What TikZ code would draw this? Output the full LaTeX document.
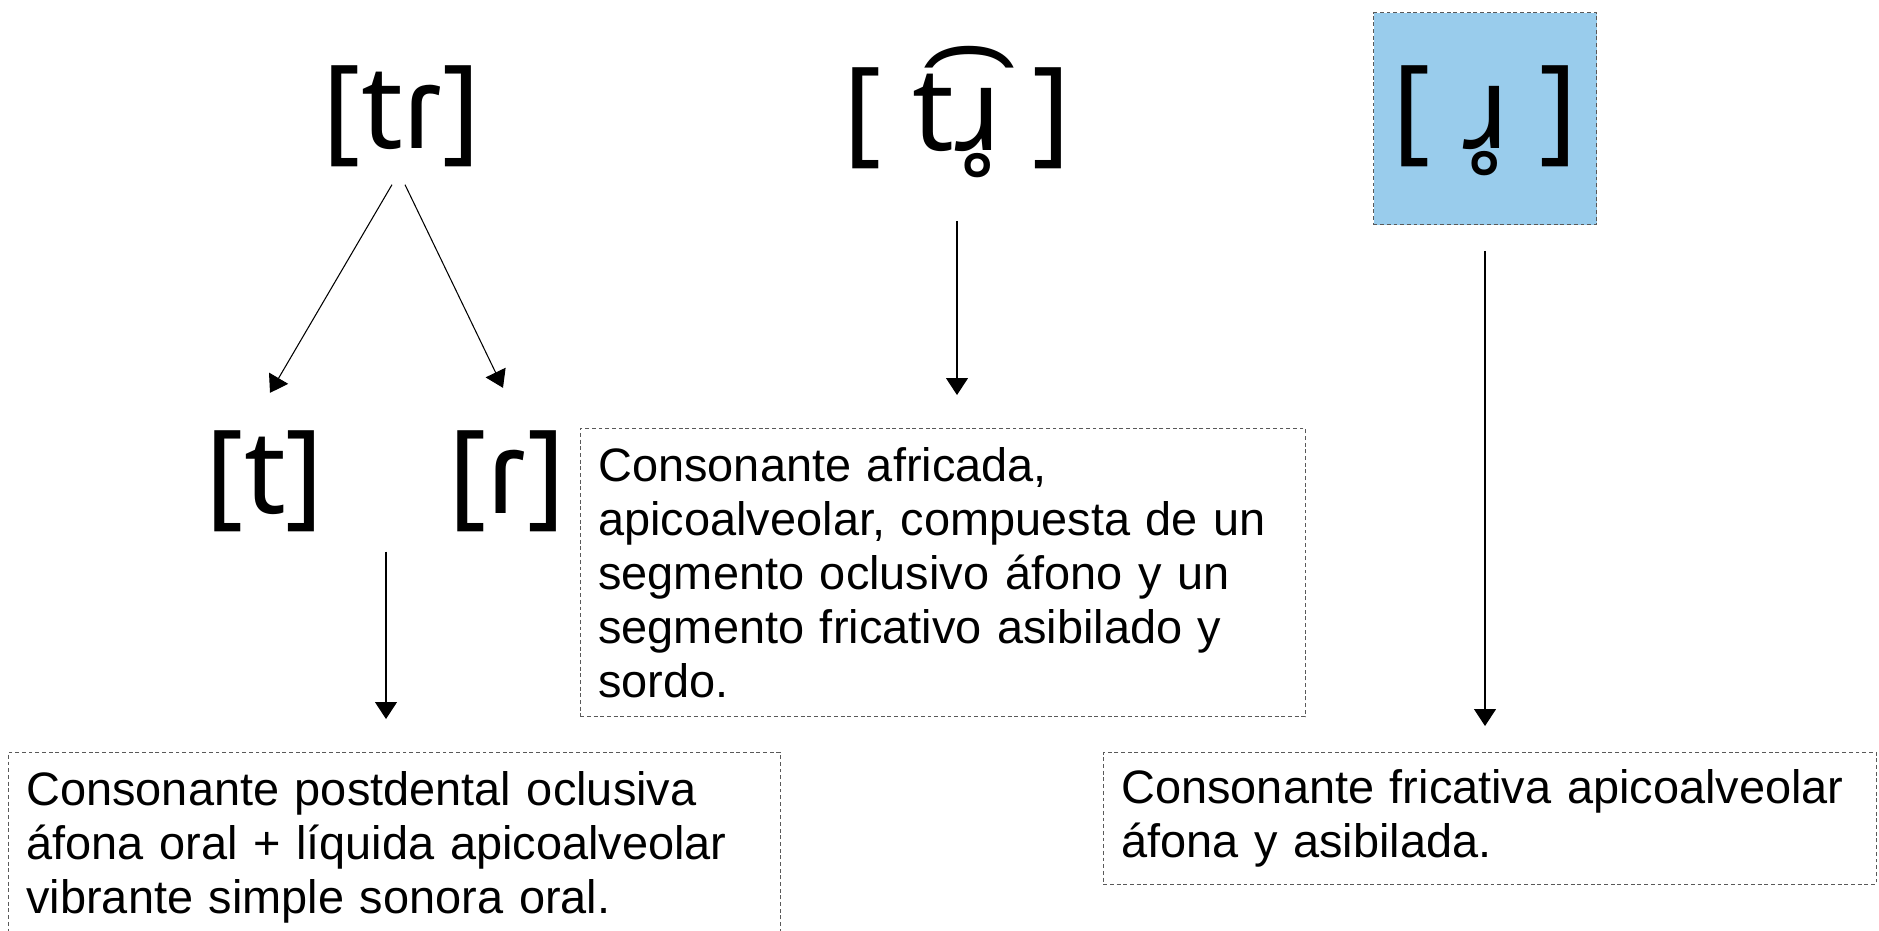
\documentclass[tikz,border=0pt]{standalone}
\usepackage{fontspec}
\setmainfont{Liberation Sans}
\newfontfamily\ipafont{Noto Sans}
\usetikzlibrary{calc,arrows.meta}
\definecolor{skyfill}{RGB}{153,204,236}
\tikzset{ipa/.style={inner sep=0pt,anchor=base,font=\ipafont\fontsize{66pt}{70pt}\selectfont},
         descbox/.style={draw=black!65,dash pattern=on 2.2pt off 1.6pt,anchor=north west,align=left,
                         inner xsep=0.36cm,inner ysep=0.38cm,font=\fontsize{26.7pt}{30.7pt}\selectfont},
         link/.style={line width=0.6pt,-{Triangle[length=0.34cm,width=0.44cm]}}
}

\begin{document}
\begin{tikzpicture}[x=0.02cm,y=-0.02cm]
\useasboundingbox (0,0) rectangle (1879,930);

\node[ipa] (tr) at (402,148) {[tɾ]};
\node[ipa] (t) at (265,513) {[t]};
\node[ipa] (r) at (507,513) {[ɾ]};
\node[ipa] (tir) at (957,150) {[ t͡ɹ̥ ]};
\node[ipa,fill=skyfill,draw=black!65,dash pattern=on 2.2pt off 1.6pt,minimum width=4.46cm,
      minimum height=4.24cm,text depth=0.48cm] (rr) at (1485,148) {[ ɹ̥ ]};

\node[descbox,text width=14.72cm] (postbox) at (8,752) {Consonante postdental oclusiva\\ áfona oral + líquida apicoalveolar\\ vibrante simple sonora oral.};
\node[descbox,text width=13.78cm] (africbox) at (580,428) {Consonante africada,\\ apicoalveolar, compuesta de un\\ segmento oclusivo áfono y un\\ segmento fricativo asibilado y\\ sordo.};
\node[descbox,text width=14.74cm,inner ysep=0.34cm] (fricbox) at (1103,752) {Consonante fricativa apicoalveolar\\ áfona y asibilada.};

\coordinate (tr-mid) at ($(t.south)!0.5!(r.south)+(0,20)$);
\draw[link] ([shift={(-10,18)}]tr.south) -- ([shift={(5,-37)}]t.north);
\draw[link] ([shift={(3,18)}]tr.south) -- ([shift={(-4,-42)}]r.north);
\draw[link,shorten >=0.66cm] (tr-mid) -- (tr-mid |- postbox.north);
\draw[link,shorten >=0.66cm] ([shift={(0,43)}]tir.south) -- (tir.south |- africbox.north);
\draw[link,shorten <=0.52cm,shorten >=0.52cm] (rr.south) -- (rr.south |- fricbox.north);

\end{tikzpicture}
\end{document}
